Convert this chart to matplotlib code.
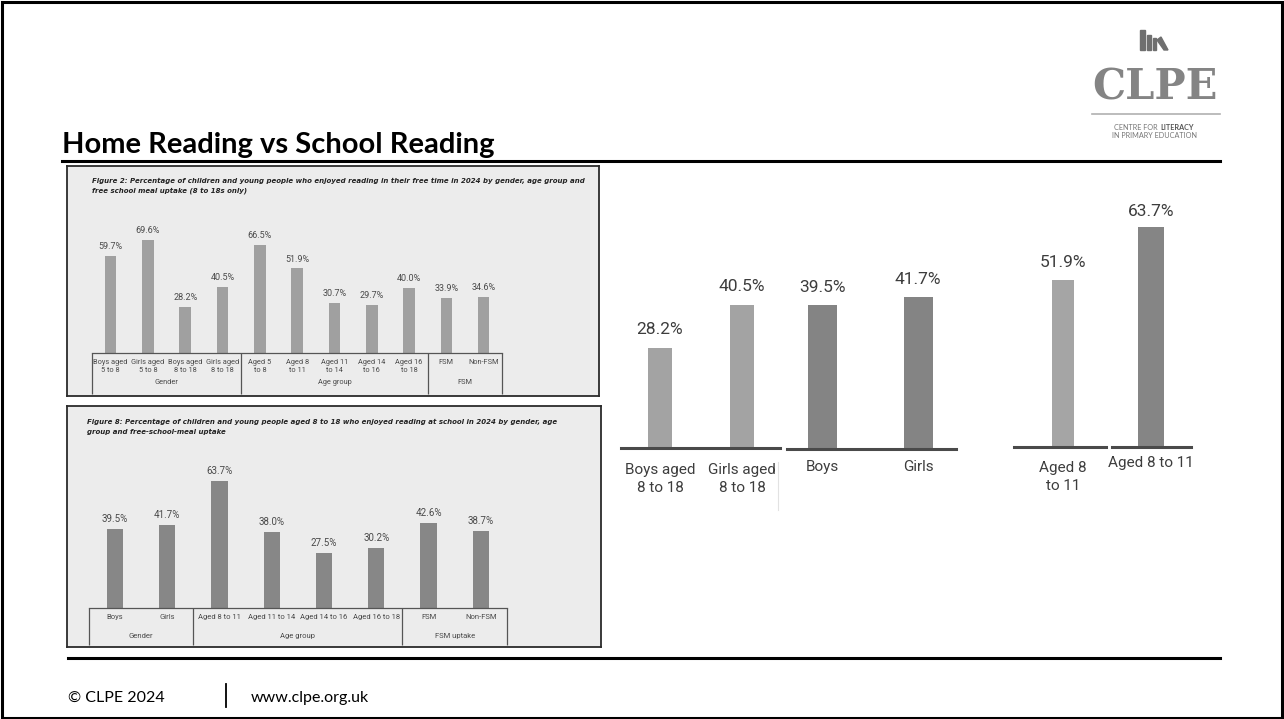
import matplotlib.pyplot as plt
from matplotlib.patches import Rectangle, Polygon
from matplotlib.lines import Line2D

W, H = 1284, 719

# Figure 2: enjoyed reading in free time (8 to 18s only)
home_labels = ["Boys aged\n5 to 8", "Girls aged\n5 to 8", "Boys aged\n8 to 18", "Girls aged\n8 to 18",
               "Aged 5\nto 8", "Aged 8\nto 11", "Aged 11\nto 14", "Aged 14\nto 16", "Aged 16\nto 18",
               "FSM", "Non-FSM"]
home_values = [59.7, 69.6, 28.2, 40.5, 66.5, 51.9, 30.7, 29.7, 40.0, 33.9, 34.6]
home_groups = ["Gender", "Age group", "FSM"]
home_group_sizes = [4, 5, 2]

# Figure 8: enjoyed reading at school
school_labels = ["Boys", "Girls", "Aged 8 to 11", "Aged 11 to 14", "Aged 14 to 16", "Aged 16 to 18",
                 "FSM", "Non-FSM"]
school_values = [39.5, 41.7, 63.7, 38.0, 27.5, 30.2, 42.6, 38.7]
school_groups = ["Gender", "Age group", "FSM uptake"]
school_group_sizes = [2, 4, 2]

# home vs school, picked out side by side
compare_labels = [["Boys aged\n8 to 18", "Girls aged\n8 to 18"], ["Boys", "Girls"],
                  ["Aged 8\nto 11"], ["Aged 8 to 11"]]
compare_values = [[28.2, 40.5], [39.5, 41.7], [51.9], [63.7]]

TXT = "#3d3d3d"


def px(x0, y0, x1, y1):
    # pixel box (top-left origin) -> figure fraction rect
    return [x0 / W, 1 - y1 / H, (x1 - x0) / W, (y1 - y0) / H]


def prect(x0, y0, x1, y1, **kw):
    fig.add_artist(Rectangle((x0 / W, 1 - y1 / H), (x1 - x0) / W, (y1 - y0) / H,
                             transform=fig.transFigure, **kw))


def pline(xs, ys, **kw):
    fig.add_artist(Line2D([x / W for x in xs], [1 - y / H for y in ys],
                          transform=fig.transFigure, **kw))


fig = plt.figure(figsize=(W / 100, H / 100), dpi=100)
fig.patch.set_facecolor("white")


def report_panel(box, title, title_xy, span, baseline, k, values, labels, groups, sizes,
                 color, bar_w, fs_val, fs_lab, row_y, group_y):
    x0, y0, x1, y1 = box
    bg = fig.add_axes(px(x0, y0, x1, y1))
    bg.set_facecolor("#ececec")
    bg.set_xticks([])
    bg.set_yticks([])
    for s in bg.spines.values():
        s.set_color("#2b2b2b")
        s.set_linewidth(1.3)
    fig.text(title_xy[0] / W, 1 - title_xy[1] / H, title, fontsize=5.0, family="DejaVu Sans",
             weight="bold", style="italic", color="#222", va="top", linespacing=1.65)

    n = len(values)
    ymax = 80
    ax = fig.add_axes(px(span[0], baseline - ymax * k, span[1], baseline))
    ax.patch.set_alpha(0)
    ax.set_xlim(-0.5, n - 0.5)
    ax.set_ylim(0, ymax)
    ax.axis("off")
    ax.bar(range(n), values, width=bar_w, color=color)
    for i, v in enumerate(values):
        ax.annotate(f"{v:.1f}%", (i, v), xytext=(0, 3.5), textcoords="offset points",
                    ha="center", va="bottom", fontsize=fs_val, family="Roboto", color="#4a4a4a")

    # category table under the bars
    tb = fig.add_axes(px(span[0], baseline, span[1], y1))
    tb.patch.set_alpha(0)
    tb.set_xlim(-0.5, n - 0.5)
    tb.set_ylim(y1, baseline)
    tb.axis("off")
    tb.plot([-0.5, n - 0.5], [baseline, baseline], color="#555", lw=0.9, clip_on=False)
    edges = [-0.5]
    for s in sizes:
        edges.append(edges[-1] + s)
    tb.vlines(edges, baseline, y1 - 2, color="#555", lw=0.9, clip_on=False)
    for i, lab in enumerate(labels):
        tb.text(i, row_y, lab, ha="center", va="top", fontsize=fs_lab, family="Roboto",
                color="#4a4a4a", linespacing=1.35)
    for g, a, b in zip(groups, edges[:-1], edges[1:]):
        tb.text((a + b) / 2, group_y, g, ha="center", va="center", fontsize=fs_lab,
                family="Roboto", color="#4a4a4a")


report_panel((67, 166, 599, 396),
             "Figure 2: Percentage of children and young people who enjoyed reading in their free time "
             "in 2024 by gender, age group and\nfree school meal uptake (8 to 18s only)",
             (92, 178), (92, 502.3), 353, 1.63, home_values, home_labels, home_groups,
             home_group_sizes, "#a0a0a0", 0.31, 6.5, 5.3, 358.5, 383)

report_panel((67, 406, 601, 647),
             "Figure 8: Percentage of children and young people aged 8 to 18 who enjoyed reading at "
             "school in 2024 by gender, age\ngroup and free-school-meal uptake",
             (87, 419), (88.9, 506.9), 608, 2.0, school_values, school_labels, school_groups,
             school_group_sizes, "#878787", 0.31, 7.0, 5.5, 614, 636)

# right-hand comparison: each pair on its own baseline
base_lines = [(621, 780, 448), (787, 956, 449), (1014, 1106, 447), (1112, 1191, 447)]
bar_centres = [[660, 742], [822.5, 918], [1063], [1151]]
bar_widths = [24, 29, 22, 26]
px_per_pt = [3.53, 3.65, 3.22, 3.45]
pair_colors = ["#a3a3a3", "#848484", "#a5a5a5", "#858585"]
label_gap = [19, 17, 17, 16]
cat_top = [15, 11, 14, 9]

for labs, vals, (lx0, lx1, base), cx, w, k, col, gap, ct in zip(
        compare_labels, compare_values, base_lines, bar_centres, bar_widths, px_per_pt,
        pair_colors, label_gap, cat_top):
    top = 72
    ax = fig.add_axes(px(lx0, base - top * k, lx1, base))
    ax.patch.set_alpha(0)
    ax.set_xlim(lx0, lx1)
    ax.set_ylim(0, top)
    ax.axis("off")
    ax.bar(cx, vals, width=w, color=col)
    ax.axhline(0, color="#4a4a4a", lw=2.2, clip_on=False)
    for c, v, lab in zip(cx, vals, labs):
        ax.annotate(f"{v:.1f}%", (c, v), xytext=(0, gap * 0.72), textcoords="offset points",
                    ha="center", va="center", fontsize=12.5, family="Roboto", color=TXT,
                    annotation_clip=False)
        ax.annotate(lab, (c, 0), xytext=(0, -ct * 0.72), textcoords="offset points",
                    ha="center", va="top", fontsize=11, family="Roboto", color=TXT,
                    linespacing=1.4, annotation_clip=False)

# faint divider between the first two label pairs
pline([778, 778], [462, 510], color="#e2e2e2", lw=0.8)

# slide furniture
fig.text(62 / W, 1 - 153 / H, "Home Reading vs School Reading", fontsize=21, weight="bold",
         family="Lato", color="black", va="baseline")
pline([62, 1220], [161, 161], color="black", lw=2.2)
pline([68, 1220], [658, 658], color="black", lw=2.2)
fig.text(68 / W, 1 - 698 / H, "\u00a9 CLPE 2024", fontsize=11.5, family="Lato", va="center")
pline([226, 226], [684, 707], color="black", lw=1.3)
fig.text(251 / W, 1 - 698 / H, "www.clpe.org.uk", fontsize=11.5, family="Lato", va="center")
prect(2, 1.5, 1282, 717.5, fill=False, edgecolor="black", lw=2.2)

# CLPE logo
logo = "#6f6f6f"
prect(1140, 30, 1145, 50, color=logo)
prect(1147, 35, 1151, 50, color=logo)
prect(1153, 38, 1156, 50, color=logo)
fig.add_artist(Polygon([((1157) / W, 1 - 40 / H), (1161 / W, 1 - 37 / H),
                        (1168 / W, 1 - 50 / H), (1164 / W, 1 - 50 / H)],
                       transform=fig.transFigure, color=logo))
fig.text(1155 / W, 1 - 100 / H, "CLPE", fontsize=30, family="DejaVu Serif", weight="bold",
         color="#848484", ha="center", va="baseline")
pline([1092, 1220], [114, 114], color="#b0b0b0", lw=1.2)
fig.text(1160 / W, 1 - 127 / H, "CENTRE FOR ", fontsize=5.2, family="Lato", color="#777",
         ha="right", va="center")
fig.text(1160 / W, 1 - 127 / H, "LITERACY", fontsize=5.2, family="Lato", color="#555",
         weight="bold", ha="left", va="center")
fig.text(1154 / W, 1 - 136 / H, "IN PRIMARY EDUCATION", fontsize=5.2, family="Lato",
         color="#777", ha="center", va="center")

fig.savefig("out.png", dpi=100)
